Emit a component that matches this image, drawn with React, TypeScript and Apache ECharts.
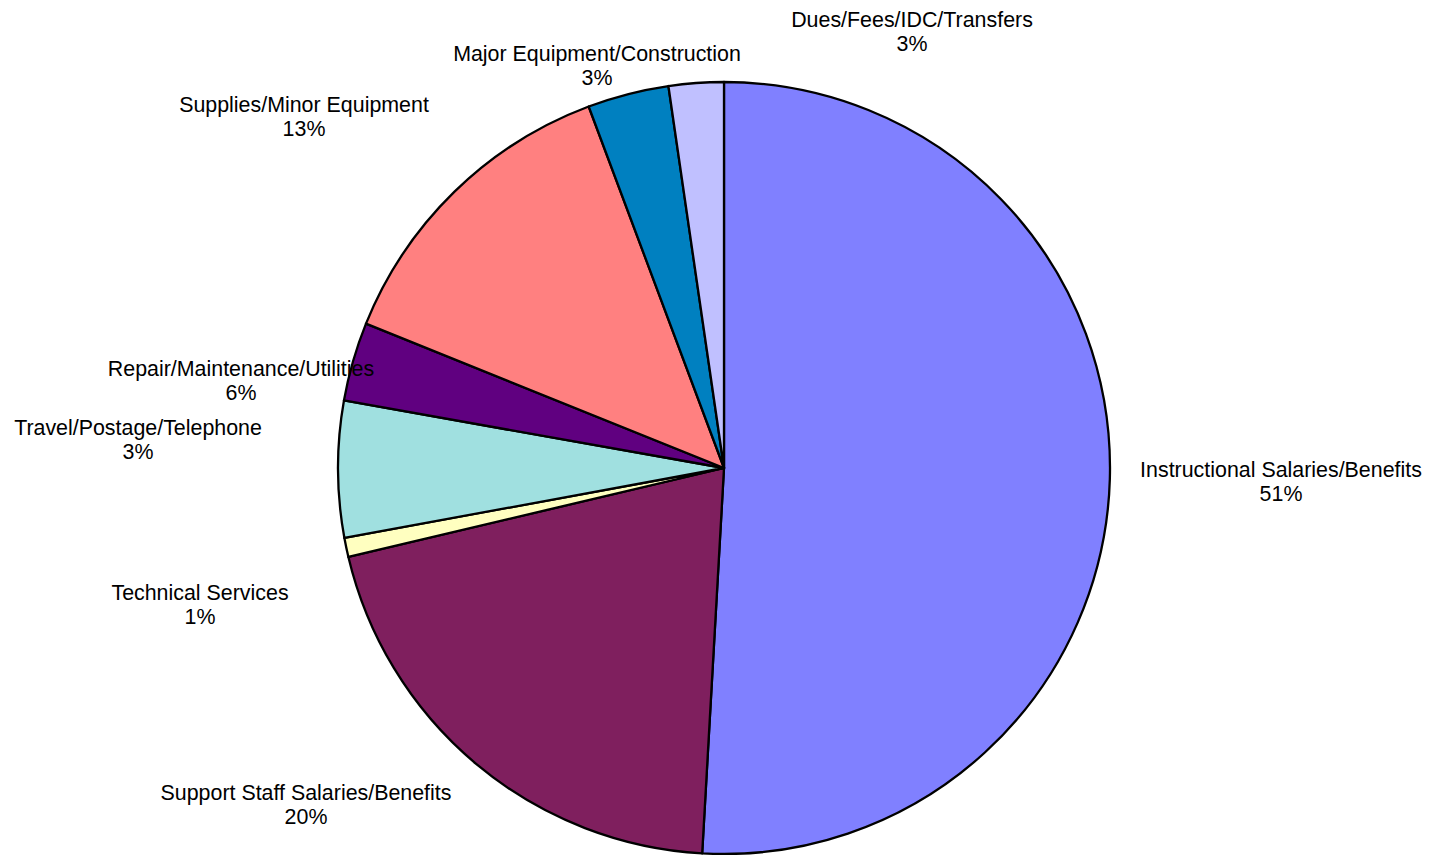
import React, { useEffect, useRef } from "react";
import * as echarts from "echarts";

const categories = [
  "Instructional Salaries/Benefits",
  "Support Staff Salaries/Benefits",
  "Technical Services",
  "Repair/Maintenance/Utilities",
  "Travel/Postage/Telephone",
  "Supplies/Minor Equipment",
  "Major Equipment/Construction",
  "Dues/Fees/IDC/Transfers",
];
const values = [50.9, 20.4, 0.8, 5.7, 3.3, 13.2, 3.4, 2.3];
const percentLabels = ["51%", "20%", "1%", "6%", "3%", "13%", "3%", "3%"];
const colors = ["#8080FF", "#7F1F5E", "#FFFFC0", "#A0E0E0", "#600080", "#FF8080", "#0080C0", "#C0C0FF"];
const labelPositions: [number, number][] = [
  [1281, 482],
  [306, 805],
  [200, 605],
  [241, 381],
  [138, 440],
  [304, 117],
  [597, 66],
  [912, 32],
];

export default function App() {
  const ref = useRef<HTMLDivElement>(null);
  useEffect(() => {
    if (!ref.current) return;
    const chart = echarts.init(ref.current, undefined, { renderer: "svg" });
    chart.setOption({
      animation: false,
      backgroundColor: "#ffffff",
      series: [
        {
          type: "pie",
          center: [724, 468],
          radius: 386,
          startAngle: 90,
          clockwise: true,
          avoidLabelOverlap: false,
          data: categories.map((name, i) => ({
            name,
            value: values[i],
            itemStyle: { color: colors[i] },
          })),
          itemStyle: { borderColor: "#000000", borderWidth: 2.3 },
          emphasis: { disabled: true },
          label: {
            show: true,
            position: "outside",
            color: "#000000",
            fontFamily: "Liberation Sans, Arial, sans-serif",
            fontSize: 21.4,
            lineHeight: 24.5,
            align: "center",
            formatter: (p: any) => `${p.name}\n${percentLabels[p.dataIndex]}`,
          },
          labelLine: { show: false },
          labelLayout: (p: any) => ({
            x: labelPositions[p.dataIndex][0],
            y: labelPositions[p.dataIndex][1],
            align: "center",
            verticalAlign: "middle",
          }),
        },
      ],
    });
    return () => chart.dispose();
  }, []);
  return (
    <div
      ref={ref}
      style={{ position: "fixed", left: 0, top: 0, width: 1429, height: 855, background: "#fff" }}
    />
  );
}
